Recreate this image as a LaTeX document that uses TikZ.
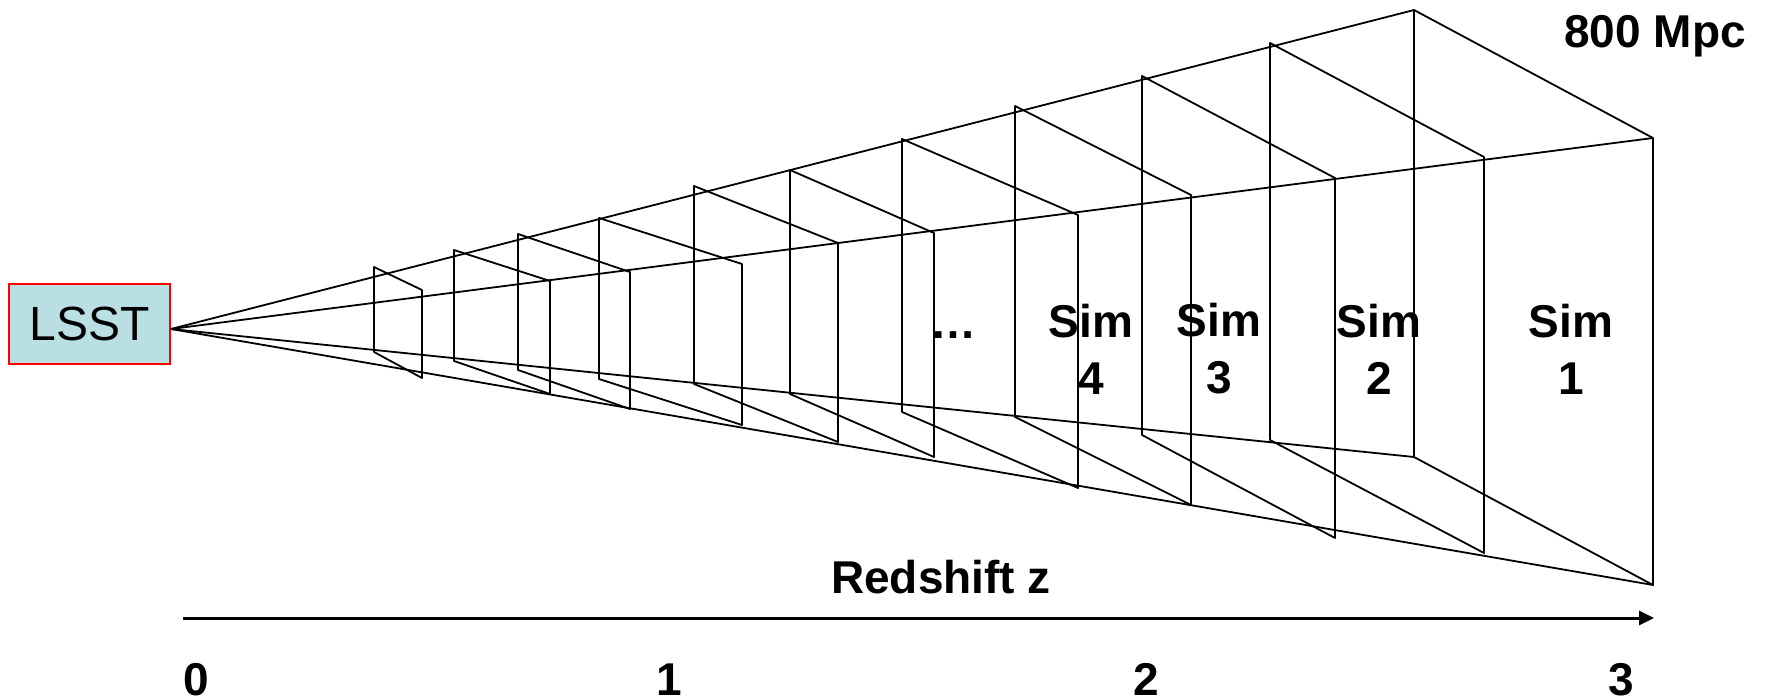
\documentclass[tikz,border=0pt]{standalone}
\usepackage{fontspec}
\setmainfont{Liberation Sans}
\usepackage{xcolor}
\usepackage{tikz}
\usetikzlibrary{arrows.meta, positioning}

\definecolor{lsstblue}{RGB}{185,223,227}

\begin{document}
\begin{tikzpicture}[
    x=1pt, y=-1pt,
    camera/.style={
        draw=red,
        line width=2pt,
        fill=lsstblue,
        minimum width=161pt,
        minimum height=80pt,
        inner sep=0pt,
        font=\fontsize{48}{56}\selectfont
    },
    simlabel/.style={
        align=center,
        font=\bfseries\fontsize{46}{57}\selectfont
    },
    axislabel/.style={
        anchor=base,
        inner sep=0pt,
        font=\bfseries\fontsize{46}{55}\selectfont
    },
    slab/.style={line width=1.8pt, line join=round},
    ray/.style={line width=1.8pt},
    axis/.style={-{Triangle[length=15pt, width=14pt]}, line width=3pt}
]
\useasboundingbox (0,0) rectangle (1768,700);

\node[camera] (lsst) at (89.5,324) {LSST};
\coordinate (apex) at ([yshift=-5pt]lsst.east);

% outermost slab (Sim 1)
\coordinate (tl) at (1414,10);
\coordinate (tr) at (1653,138);
\coordinate (br) at (1653,585);
\coordinate (bl) at (1414,457);

\draw[ray] (apex) -- (tl);
\draw[ray] (apex) -- (tr);
\draw[ray] (apex) -- (bl);
\draw[ray] (apex) -- (br);

\draw[slab] (374,267) -- (422,290) -- (422,378) -- (374,352) -- cycle;
\draw[slab] (454,250) -- (550,281) -- (550,394) -- (454,361) -- cycle;
\draw[slab] (518,234) -- (630,272) -- (630,409) -- (518,370) -- cycle;
\draw[slab] (599,218) -- (742,264) -- (742,425) -- (599,379) -- cycle;
\draw[slab] (694,186) -- (838,243) -- (838,442) -- (694,384) -- cycle;
\draw[slab] (790,170) -- (934,233) -- (934,457) -- (790,394) -- cycle;
\draw[slab] (902,139) -- (1078,215) -- (1078,488) -- (902,412) -- cycle;
\draw[slab] (1015,106) -- (1191,195) -- (1191,505) -- (1015,417) -- cycle;
\draw[slab] (1142,76) -- (1335,178) -- (1335,538) -- (1142,435) -- cycle;
\draw[slab] (1270,43) -- (1484,157) -- (1484,553) -- (1270,440) -- cycle;
\draw[slab] (tl) -- (tr) -- (br) -- (bl) -- cycle;

\node[axislabel] (dots) at (953,338) {…};
\node[simlabel] (sim4) at (1091,349) {Sim\\4};
\node[simlabel] (sim3) at (1219,349) {Sim\\3};
\node[simlabel] (sim2) at (1379,349) {Sim\\2};
\node[simlabel] (sim1) at (1571,349) {Sim\\1};

\node[axislabel] (size) at (1655,48) {800 Mpc};

% redshift axis
\coordinate (z0) at (183,618);
\coordinate (z3) at (1654,618);
\draw[axis] (z0) -- (z3);
\node[axislabel] (zlabel) at (941,593) {Redshift z};

\node[axislabel] (tick0) at (196,695) {0};
\node[axislabel] (tick1) at (669,695) {1};
\node[axislabel] (tick2) at (1146,695) {2};
\node[axislabel] (tick3) at (1621,695) {3};
\end{tikzpicture}
\end{document}
